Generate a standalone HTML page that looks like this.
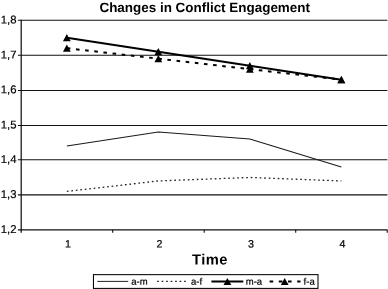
<!DOCTYPE html><html><head><meta charset="utf-8"><title>Changes in Conflict Engagement</title>
<style>html,body{margin:0;padding:0;background:#fff}svg{display:block}text{font-family:"Liberation Sans",Arial,sans-serif;fill:#000}</style></head><body>
<svg width="388" height="289" viewBox="0 0 388 289">
<rect width="388" height="289" fill="#fff"/>
<line x1="17.90" y1="20.25" x2="387.40" y2="20.25" stroke="#111" stroke-width="1.05"/>
<line x1="17.90" y1="55.30" x2="387.40" y2="55.30" stroke="#111" stroke-width="1.05"/>
<line x1="17.90" y1="90.50" x2="387.40" y2="90.50" stroke="#111" stroke-width="1.05"/>
<line x1="17.90" y1="125.40" x2="387.40" y2="125.40" stroke="#111" stroke-width="1.05"/>
<line x1="17.90" y1="159.65" x2="387.40" y2="159.65" stroke="#111" stroke-width="1.05"/>
<line x1="17.90" y1="194.85" x2="387.40" y2="194.85" stroke="#111" stroke-width="1.05"/>
<line x1="17.90" y1="229.85" x2="387.40" y2="229.85" stroke="#111" stroke-width="1.05"/>
<line x1="21.2" y1="19.75" x2="21.2" y2="232.65" stroke="#111" stroke-width="1.25"/>
<line x1="112.70" y1="229.85" x2="112.70" y2="232.65" stroke="#111" stroke-width="1.1"/>
<line x1="204.20" y1="229.85" x2="204.20" y2="232.65" stroke="#111" stroke-width="1.1"/>
<line x1="295.70" y1="229.85" x2="295.70" y2="232.65" stroke="#111" stroke-width="1.1"/>
<line x1="387.20" y1="229.85" x2="387.20" y2="232.65" stroke="#111" stroke-width="1.1"/>
<text x="16.50" y="23.55" font-size="11.3" text-anchor="end" stroke="#000" stroke-width="0.2" transform="rotate(0.03 16.50 23.55)">1,8</text>
<text x="16.50" y="58.40" font-size="11.3" text-anchor="end" stroke="#000" stroke-width="0.2" transform="rotate(0.03 16.50 58.40)">1,7</text>
<text x="16.50" y="93.30" font-size="11.3" text-anchor="end" stroke="#000" stroke-width="0.2" transform="rotate(0.03 16.50 93.30)">1,6</text>
<text x="16.50" y="128.40" font-size="11.3" text-anchor="end" stroke="#000" stroke-width="0.2" transform="rotate(0.03 16.50 128.40)">1,5</text>
<text x="16.50" y="162.95" font-size="11.3" text-anchor="end" stroke="#000" stroke-width="0.2" transform="rotate(0.03 16.50 162.95)">1,4</text>
<text x="16.50" y="197.95" font-size="11.3" text-anchor="end" stroke="#000" stroke-width="0.2" transform="rotate(0.03 16.50 197.95)">1,3</text>
<text x="16.50" y="232.90" font-size="11.3" text-anchor="end" stroke="#000" stroke-width="0.2" transform="rotate(0.03 16.50 232.90)">1,2</text>
<text x="68.05" y="247.60" font-size="10.7" text-anchor="middle" stroke="#000" stroke-width="0.2" transform="rotate(0.03 68.05 247.60)">1</text>
<text x="159.55" y="247.60" font-size="10.7" text-anchor="middle" stroke="#000" stroke-width="0.2" transform="rotate(0.03 159.55 247.60)">2</text>
<text x="251.05" y="247.60" font-size="10.7" text-anchor="middle" stroke="#000" stroke-width="0.2" transform="rotate(0.03 251.05 247.60)">3</text>
<text x="342.55" y="247.60" font-size="10.7" text-anchor="middle" stroke="#000" stroke-width="0.2" transform="rotate(0.03 342.55 247.60)">4</text>
<text x="204.70" y="11.95" font-size="13.45" text-anchor="middle" font-weight="bold" transform="rotate(0.03 204.70 11.95)">Changes in Conflict Engagement</text>
<text letter-spacing="0.5" x="192.00" y="264.60" font-size="14.7" font-weight="bold" transform="rotate(0.03 192.00 264.60)">Time</text>
<polyline points="66.85,146.01 158.35,132.04 249.85,139.02 341.35,166.97" fill="none" stroke="#1a1a1a" stroke-width="1.15"/>
<polyline points="66.85,191.42 158.35,180.94 249.85,177.45 341.35,180.94" fill="none" stroke="#222" stroke-width="1.3" stroke-dasharray="1.7 2.8"/>
<polyline points="66.85,37.72 158.35,51.69 249.85,65.66 341.35,79.64" fill="none" stroke="#000" stroke-width="2"/>
<polyline points="66.85,48.20 158.35,58.68 249.85,69.16 341.35,79.64" fill="none" stroke="#000" stroke-width="2" stroke-dasharray="3.6 5.6"/>
<path d="M66.85 34.12L70.75 41.32L62.95 41.32Z" fill="#000"/>
<path d="M158.35 48.09L162.25 55.29L154.45 55.29Z" fill="#000"/>
<path d="M249.85 62.06L253.75 69.26L245.95 69.26Z" fill="#000"/>
<path d="M341.35 76.04L345.25 83.24L337.45 83.24Z" fill="#000"/>
<path d="M66.85 44.60L70.75 51.80L62.95 51.80Z" fill="#000"/>
<path d="M158.35 55.08L162.25 62.28L154.45 62.28Z" fill="#000"/>
<path d="M249.85 65.56L253.75 72.76L245.95 72.76Z" fill="#000"/>
<path d="M341.35 76.04L345.25 83.24L337.45 83.24Z" fill="#000"/>
<rect x="93.45" y="274.65" width="224.55" height="13.75" fill="#fff" stroke="#000" stroke-width="1.05"/>
<line x1="97.3" y1="281.4" x2="128.2" y2="281.4" stroke="#222" stroke-width="1"/>
<text x="131.30" y="284.70" font-size="9.5" stroke="#000" stroke-width="0.2" transform="rotate(0.03 131.30 284.70)">a-m</text>
<line x1="157.1" y1="281.4" x2="186.4" y2="281.4" stroke="#222" stroke-width="1.3" stroke-dasharray="1.7 2.8"/>
<text x="191.00" y="284.70" font-size="9.5" stroke="#000" stroke-width="0.2" transform="rotate(0.03 191.00 284.70)">a-f</text>
<line x1="211.4" y1="281.4" x2="243.3" y2="281.4" stroke="#000" stroke-width="2"/>
<path d="M227.40 277.90L231.30 285.10L223.50 285.10Z" fill="#000"/>
<text x="245.80" y="284.70" font-size="9.5" stroke="#000" stroke-width="0.2" transform="rotate(0.03 245.80 284.70)">m-a</text>
<line x1="269.6" y1="281.4" x2="300.5" y2="281.4" stroke="#000" stroke-width="2" stroke-dasharray="3.6 5.6"/>
<path d="M284.70 277.90L288.60 285.10L280.80 285.10Z" fill="#000"/>
<text x="303.60" y="284.70" font-size="9.5" stroke="#000" stroke-width="0.2" transform="rotate(0.03 303.60 284.70)">f-a</text>
</svg></body></html>
